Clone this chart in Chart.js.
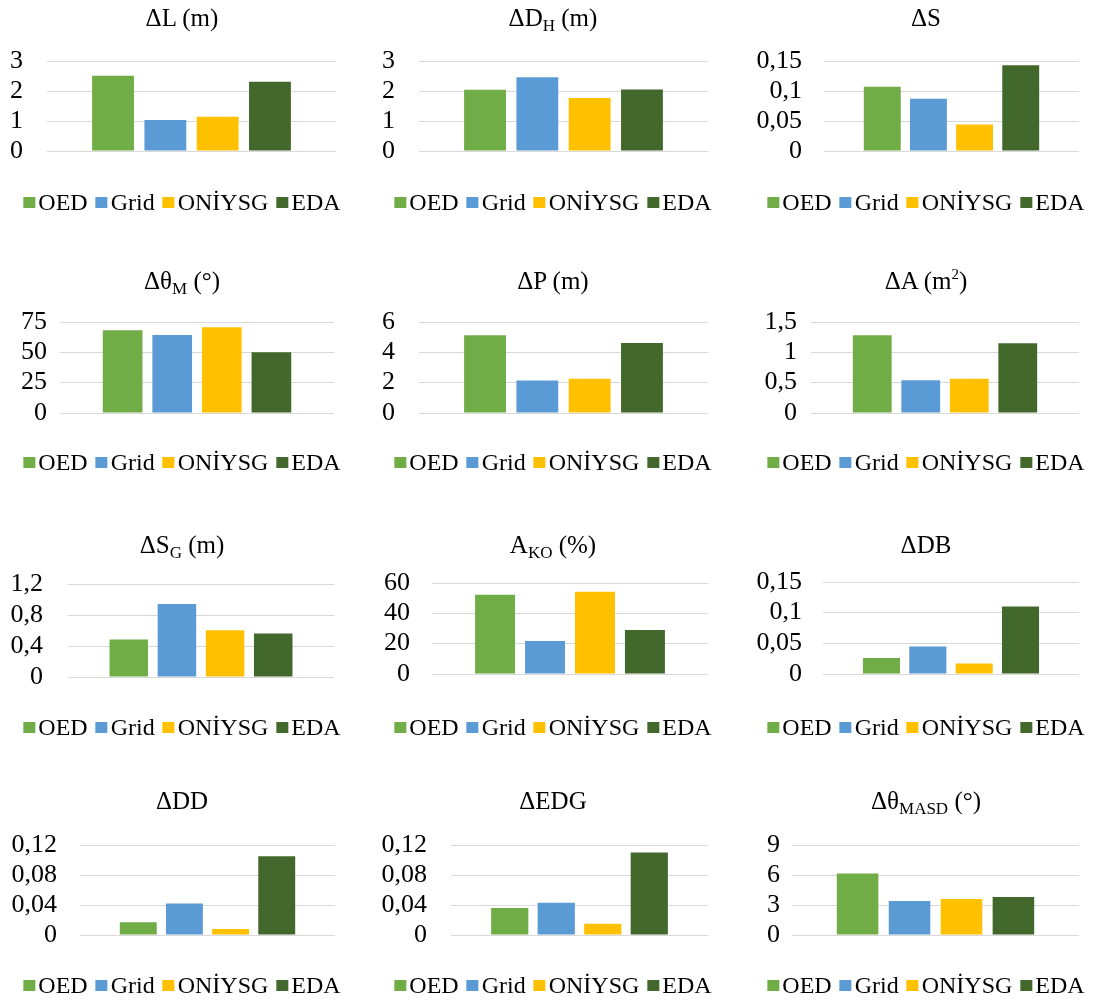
<!DOCTYPE html>
<html>
<head>
<meta charset="utf-8">
<script src="https://cdn.jsdelivr.net/npm/chart.js@4"></script>
<style>
  body { margin: 0; background: #fff; width: 1096px; height: 1003px; position: relative; overflow: hidden;
         font-family: "Liberation Serif", "Times New Roman", Times, "DejaVu Serif", serif; color: #000; }
  canvas { position: absolute; }
  .title { position: absolute; font-family: "Liberation Serif", "Times New Roman", Times, serif;
           font-size: 25px; line-height: 1; white-space: nowrap; transform: translate(-50%, -50%); }
  .title sub { font-size: 17px; vertical-align: baseline; position: relative; top: 5px; }
  .title sup { font-size: 15px; vertical-align: baseline; position: relative; top: -10px; }
  .legend { position: absolute; display: flex; align-items: center; white-space: nowrap;
            font-family: "Liberation Serif", "Times New Roman", Times, serif; font-size: 24px; line-height: 1;
            transform: translate(-50%, -50%); }
  .legend .item { display: flex; align-items: center; margin: 0 4px; font-family: inherit; }
  .legend .sw { display: inline-block; width: 12px; height: 11px; margin-right: 3px; }
</style>
</head>
<body>
<script>
// One group on the x axis; the four methods are drawn as side-by-side bars.
const categories = [''];
const seriesNames = ['OED', 'Grid', 'ONİYSG', 'EDA'];

const panelTitles = [
  'ΔL (m)', 'ΔD<sub>H</sub> (m)', 'ΔS',
  'Δθ<sub>M</sub> (°)', 'ΔP (m)', 'ΔA (m<sup>2</sup>)',
  'ΔS<sub>G</sub> (m)', 'A<sub>KO</sub> (%)', 'ΔDB',
  'ΔDD', 'ΔEDG', 'Δθ<sub>MASD</sub> (°)'
];

// Values per panel, in the order OED, Grid, ONİYSG, EDA
const valuesL      = [2.51, 1.03, 1.14, 2.31];
const valuesDH     = [2.04, 2.46, 1.77, 2.05];
const valuesS      = [0.107, 0.087, 0.044, 0.143];
const valuesThetaM = [68.2, 64.3, 70.6, 50.0];
const valuesP      = [5.12, 2.15, 2.26, 4.62];
const valuesA      = [1.28, 0.54, 0.566, 1.15];
const valuesSG     = [0.484, 0.941, 0.604, 0.562];
const valuesAKO    = [52.2, 21.7, 54.2, 29.0];
const valuesDB     = [0.026, 0.045, 0.017, 0.110];
const valuesDD     = [0.017, 0.042, 0.008, 0.105];
const valuesEDG    = [0.036, 0.043, 0.015, 0.110];
const valuesMASD   = [6.16, 3.41, 3.61, 3.81];

// Y-axis tick values per panel
const ticksL      = [0, 1, 2, 3];
const ticksDH     = [0, 1, 2, 3];
const ticksS      = [0, 0.05, 0.1, 0.15];
const ticksThetaM = [0, 25, 50, 75];
const ticksP      = [0, 2, 4, 6];
const ticksA      = [0, 0.5, 1, 1.5];
const ticksSG     = [0, 0.4, 0.8, 1.2];
const ticksAKO    = [0, 20, 40, 60];
const ticksDB     = [0, 0.05, 0.1, 0.15];
const ticksDD     = [0, 0.04, 0.08, 0.12];
const ticksEDG    = [0, 0.04, 0.08, 0.12];
const ticksMASD   = [0, 3, 6, 9];

const panelValues = [valuesL, valuesDH, valuesS, valuesThetaM, valuesP, valuesA,
                     valuesSG, valuesAKO, valuesDB, valuesDD, valuesEDG, valuesMASD];
const panelTicks  = [ticksL, ticksDH, ticksS, ticksThetaM, ticksP, ticksA,
                     ticksSG, ticksAKO, ticksDB, ticksDD, ticksEDG, ticksMASD];

// ---- styling and page layout ----
const FONT = '"Liberation Serif", "Times New Roman", Times, serif';
const seriesColors = ['#70AD47', '#5B9BD5', '#FFC000', '#43682B'];
const colLeft   = [0, 366, 731];
const colCenter = [182, 553, 926];
const titleY    = [17, 280, 544, 800];
const legendY   = [202, 462, 727, 985];

// plot frame per panel: left / right edge of the plot, y of the top gridline, y of zero, right edge of tick text
const frames = [
  { left: 47,  right: 336,  top: 61,  zero: 151, label: 23 },
  { left: 419, right: 708,  top: 61,  zero: 151, label: 395 },
  { left: 824, right: 1079, top: 61,  zero: 151, label: 802 },
  { left: 60,  right: 334,  top: 322, zero: 413, label: 47 },
  { left: 419, right: 708,  top: 322, zero: 413, label: 395 },
  { left: 811, right: 1079, top: 322, zero: 413, label: 797 },
  { left: 68,  right: 334,  top: 584, zero: 677, label: 43 },
  { left: 432, right: 708,  top: 583, zero: 674, label: 410 },
  { left: 823, right: 1079, top: 582, zero: 674, label: 802 },
  { left: 80,  right: 335,  top: 845, zero: 935, label: 57 },
  { left: 451, right: 708,  top: 845, zero: 935, label: 427 },
  { left: 792, right: 1079, top: 845, zero: 935, label: 780 }
];

// vertical room around the plot, larger than half a tick label plus the tick padding
const PAD_V = 50, PAD_R = 10;

function decimalComma(v) {
  return String(+Number(v).toFixed(4)).replace('.', ',');
}

panelValues.forEach((values, i) => {
  const col = i % 3, row = Math.floor(i / 3);
  const f = frames[i];
  const ticks = panelTicks[i];
  const cLeft = colLeft[col];

  // chart
  const canvas = document.createElement('canvas');
  const w = f.right - cLeft + PAD_R;
  const h = f.zero - f.top + 2 * PAD_V;
  canvas.width = w; canvas.height = h;
  canvas.style.width = w + 'px'; canvas.style.height = h + 'px';
  canvas.style.left = cLeft + 'px';
  canvas.style.top = (f.top - PAD_V) + 'px';
  document.body.appendChild(canvas);

  new Chart(canvas, {
    type: 'bar',
    data: {
      labels: categories,
      datasets: seriesNames.map((name, k) => ({
        label: name,
        data: [values[k]],
        backgroundColor: seriesColors[k],
        borderWidth: 0,
        categoryPercentage: 0.724,
        barPercentage: 0.8
      }))
    },
    options: {
      responsive: false,
      animation: false,
      devicePixelRatio: 1,
      layout: { padding: { top: PAD_V, bottom: PAD_V, left: 0, right: PAD_R } },
      plugins: { legend: { display: false }, title: { display: false }, tooltip: { enabled: false } },
      scales: {
        x: { display: false },
        y: {
          min: 0,
          max: ticks[ticks.length - 1],
          afterBuildTicks: s => { s.ticks = ticks.map(v => ({ value: v })); },
          afterFit: s => { s.width = f.left - cLeft; },
          border: { display: false },
          grid: { color: '#d9d9d9', lineWidth: 1, drawTicks: false },
          ticks: {
            autoSkip: false,
            padding: f.left - f.label,
            color: '#000',
            font: { family: FONT, size: 26 },
            callback: v => decimalComma(v)
          }
        }
      }
    }
  });

  // title
  const t = document.createElement('div');
  t.className = 'title';
  t.innerHTML = panelTitles[i];
  t.style.left = colCenter[col] + 'px';
  t.style.top = titleY[row] + 'px';
  document.body.appendChild(t);

  // legend
  const lg = document.createElement('div');
  lg.className = 'legend';
  lg.style.left = colCenter[col] + 'px';
  lg.style.top = legendY[row] + 'px';
  seriesNames.forEach((name, k) => {
    const it = document.createElement('span');
    it.className = 'item';
    const sw = document.createElement('span');
    sw.className = 'sw';
    sw.style.background = seriesColors[k];
    const tx = document.createElement('span');
    tx.textContent = name;
    it.appendChild(sw); it.appendChild(tx);
    lg.appendChild(it);
  });
  document.body.appendChild(lg);
});
</script>
</body>
</html>
